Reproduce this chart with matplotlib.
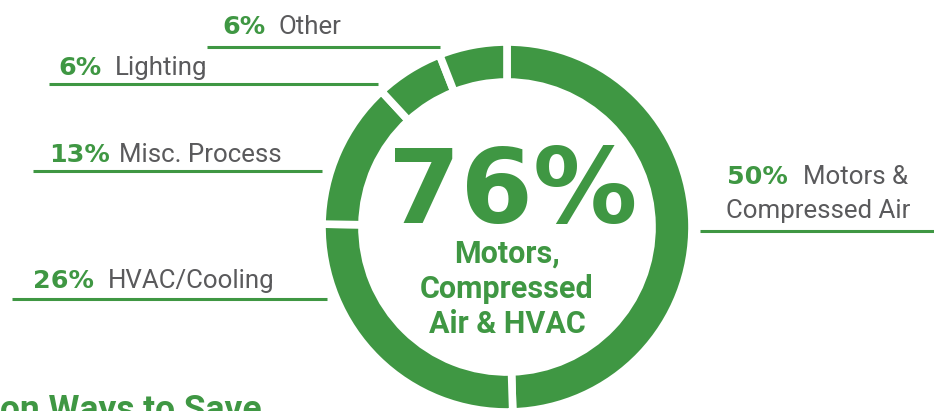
import matplotlib
matplotlib.use("Agg")
import matplotlib.pyplot as plt

# ---- data ----
categories = ["Motors &\nCompressed Air", "HVAC/Cooling", "Misc. Process", "Lighting", "Other"]
values = [50, 26, 13, 6, 6]
pct_labels = ["50%", "26%", "13%", "6%", "6%"]
center_value = "76%"
center_caption = "Motors,\nCompressed\nAir & HVAC"
footer_text = "on Ways to Save"

GREEN = "#3f9743"
GRAY = "#5a5a5c"

W, H = 934, 411
fig = plt.figure(figsize=(W / 100, H / 100), dpi=100)
ax = fig.add_axes([0, 0, 1, 1])

def Y(py):
    return H - py

# donut
cx, cy, R, ring = 507, 227, 185, 40
ax.pie(values, startangle=90, counterclock=False, colors=[GREEN] * len(values),
       center=(cx, Y(cy)), radius=R,
       wedgeprops=dict(width=ring, edgecolor="white", linewidth=5.5))
ax.set_xlim(0, W)
ax.set_ylim(0, H)
ax.set_aspect("equal")
ax.axis("off")

# label layout (pixel positions): pct x, name x, baseline y, line y, line x0, x1
layout = {
    "Other": (222, 278, 34, 47, 207, 440),
    "Lighting": (58, 115, 75, 84, 49, 378),
    "Misc. Process": (49, 119, 162, 171, 33, 322),
    "HVAC/Cooling": (33, 108, 288, 299, 12, 327),
}
PCT_SIZE = 18.3
NAME_SIZE = 18.6

for cat, pct in zip(categories, pct_labels):
    if cat in layout:
        px, nx, by, ly, x0, x1 = layout[cat]
        ax.text(px, Y(by), pct, color=GREEN, fontsize=PCT_SIZE, fontweight="bold",
                family="DejaVu Sans", va="baseline", ha="left")
        ax.text(nx, Y(by), cat, color=GRAY, fontsize=NAME_SIZE,
                family="Roboto", va="baseline", ha="left")
        ax.plot([x0, x1], [Y(ly), Y(ly)], color=GREEN, lw=2.2, solid_capstyle="butt")

# Motors label (right side, two lines)
first, second = categories[0].split("\n")
ax.text(727, Y(184), pct_labels[0], color=GREEN, fontsize=PCT_SIZE, fontweight="bold",
        family="DejaVu Sans", va="baseline", ha="left")
ax.text(803, Y(184), first, color=GRAY, fontsize=NAME_SIZE, family="Roboto",
        va="baseline", ha="left")
ax.text(726, Y(218), second, color=GRAY, fontsize=NAME_SIZE, family="Roboto",
        va="baseline", ha="left")
ax.plot([700, W], [Y(231), Y(231)], color=GREEN, lw=2.2, solid_capstyle="butt")

# center text
ax.text(513, Y(223), center_value, color=GREEN, fontsize=75, fontweight="bold",
        family="DejaVu Sans", va="baseline", ha="center")
for i, line in enumerate(center_caption.split("\n")):
    ax.text(507, Y(263 + 35 * i), line, color=GREEN, fontsize=22, fontweight="bold",
            family="Roboto", va="baseline", ha="center")

# footer (cut off)
ax.text(262, Y(420), footer_text, color=GREEN, fontsize=25.5, fontweight="bold",
        family="Roboto", va="baseline", ha="right")

fig.savefig("out.png", dpi=100)
